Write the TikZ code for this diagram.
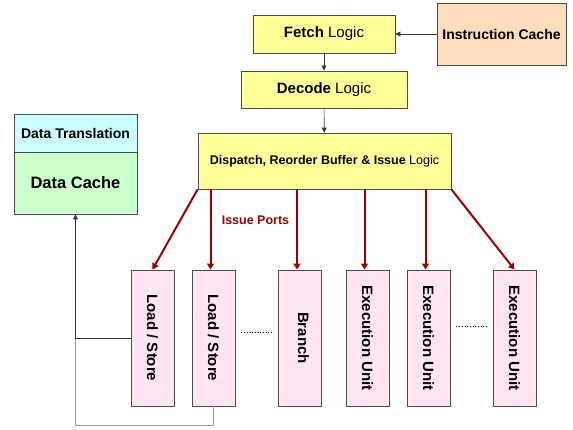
\documentclass[tikz,border=0pt]{standalone}
\usepackage{fontspec}
\setmainfont{Liberation Sans}
\usetikzlibrary{arrows.meta}
\definecolor{logicyellow}{RGB}{255,255,153}
\definecolor{icachepeach}{RGB}{253,221,188}
\definecolor{tlbcyan}{RGB}{204,255,255}
\definecolor{dcachegreen}{RGB}{204,255,204}
\definecolor{unitpink}{RGB}{255,229,242}
\definecolor{portred}{RGB}{153,0,0}
\begin{document}
\begin{tikzpicture}[x=1pt, y=-1pt,
	block/.style={draw=black!70, line width=0.9pt, rectangle, inner sep=0pt},
	logic/.style={block, fill=logicyellow, font=\fontsize{15}{17}\selectfont},
	unit/.style={block, fill=unitpink, minimum width=43pt, minimum height=136pt},
	unitlabel/.style={rotate=-90, font=\fontsize{15}{17}\selectfont\bfseries},
	port/.style={draw=portred, line width=2pt, -{Triangle[length=6pt, width=7pt]}},
	feed/.style={draw=black!80, line width=0.6pt, -{Triangle[length=5pt, width=5pt]}}]
	\useasboundingbox (0,0) rectangle (573,429);
	\node[logic, minimum width=142pt, minimum height=38pt] (fetch) at (324,34) {\textbf{Fetch} Logic};
	\node[block, fill=icachepeach, minimum width=129pt, minimum height=62pt, font=\fontsize{14}{16}\selectfont\bfseries] (icache) at (501.5,34) {Instruction Cache};
	\node[logic, minimum width=166pt, minimum height=37pt] (decode) at (324,89.5) {\textbf{Decode} Logic};
	\node[logic, minimum width=253pt, minimum height=56pt, font=\fontsize{12.5}{14}\selectfont] (disp) at (324.5,161) {\textbf{Dispatch, Reorder Buffer \& Issue} Logic};
	\node[block, fill=tlbcyan, minimum width=123pt, minimum height=38pt, font=\fontsize{14}{16}\selectfont\bfseries] (dtlb) at (75.5,133) {Data Translation};
	\node[block, fill=dcachegreen, minimum width=123pt, minimum height=62pt, font=\fontsize{16.5}{19}\selectfont\bfseries] (dcache) at (75.5,183) {Data Cache};
	\node[unit] (ls1) at (152.5,338) {};
	\node[unit] (ls2) at (213.5,338) {};
	\node[unit] (branch) at (299.5,338) {};
	\node[unit] (eu1) at (367.5,338) {};
	\node[unit] (eu2) at (428.5,338) {};
	\node[unit] (eu3) at (514.5,338) {};
	\node[unitlabel] at (ls1) {Load / Store};
	\node[unitlabel] at (ls2) {Load / Store};
	\node[unitlabel] at ([xshift=4pt]branch) {Branch};
	\node[unitlabel] at (eu1) {Execution Unit};
	\node[unitlabel] at (eu2) {Execution Unit};
	\node[unitlabel] at (eu3) {Execution Unit};
	\node[text=portred, font=\fontsize{12.5}{14}\selectfont\bfseries] (ports) at (255.5,220) {Issue Ports};
	\draw[feed] (icache) -- (fetch);
	\draw[feed] (fetch) -- (decode);
	\draw[feed] (decode) -- (disp);
	\draw[port] (disp.south west) -- (ls1.north);
	\draw[port] ([xshift=-3pt]ls2.north |- disp.south) -- ([xshift=-3pt]ls2.north);
	\draw[port] ([xshift=-2.5pt]branch.north |- disp.south) -- ([xshift=-2.5pt]branch.north);
	\draw[port] ([xshift=-3pt]eu1.north |- disp.south) -- ([xshift=-3pt]eu1.north);
	\draw[port] ([xshift=-3pt]eu2.north |- disp.south) -- ([xshift=-3pt]eu2.north);
	\draw[port] (disp.south east) -- (eu3.north);
	\draw[dotted, line width=0.7pt, shorten <=6pt, shorten >=5pt] ([yshift=6pt]ls2.east) -- ([yshift=6pt]branch.west);
	\draw[dotted, line width=0.7pt, shorten <=6pt, shorten >=5pt] ([yshift=12pt]eu2.east) -- ([yshift=12pt]eu3.west);
	\coordinate (merge) at (ls1.west -| dcache.south);
	\draw[black!40, line width=0.8pt] (ls2.south) -- ++(0,19) -| (merge);
	\draw[feed] (ls1.west) -| (dcache.south);
\end{tikzpicture}
\end{document}
